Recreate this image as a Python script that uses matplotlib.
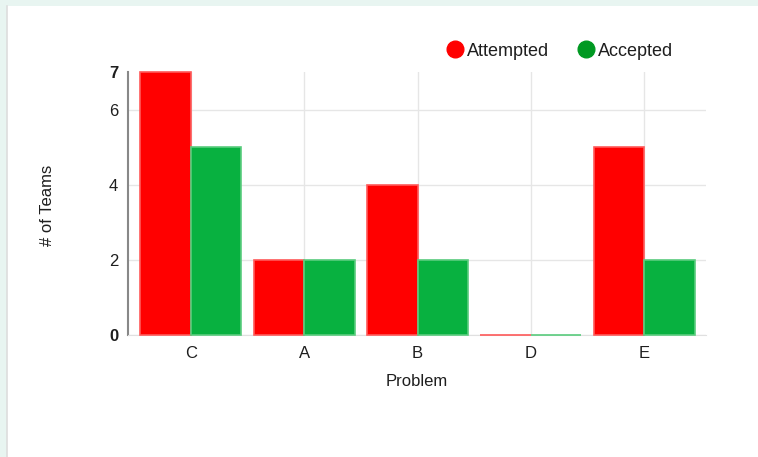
import matplotlib
matplotlib.use("Agg")
import matplotlib.pyplot as plt
from matplotlib.patches import Rectangle
from matplotlib.lines import Line2D
import numpy as np

plt.rcParams["font.family"] = ["Liberation Sans", "DejaVu Sans"]

# Teams per problem
problems = ["C", "A", "B", "D", "E"]
attempted = [7, 2, 4, 0, 5]
accepted = [5, 2, 2, 0, 2]

red = "#ff0000"
green = "#08b140"
text_col = "#1e1e1e"

fig = plt.figure(figsize=(7.58, 4.57), dpi=100)
fig.patch.set_facecolor("#e8f5f1")
# white card behind the chart
fig.patches.append(Rectangle((7 / 758, 0), 1, 1 - 6 / 457, transform=fig.transFigure,
                             facecolor="white", edgecolor="none", zorder=-2))
fig.lines.append(Line2D([7 / 758, 7 / 758], [0, 1 - 6 / 457], transform=fig.transFigure,
                        color="#dddddd", lw=1.2, zorder=-1))

ax = fig.add_axes([128 / 758, 1 - 335 / 457, 578 / 758, 263 / 457])
ax.set_facecolor("white")

x = np.arange(len(problems))
w = 0.446
b1 = ax.bar(x - w / 2, attempted, w, color=red, edgecolor="#ff5a5a", linewidth=1.2, zorder=3)
b2 = ax.bar(x + w / 2, accepted, w, color=green, edgecolor="#5acc7e", linewidth=1.2, zorder=3)
for p in list(b1) + list(b2):
    p.set_clip_on(False)

ax.set_xlim(-0.556, 4.547)
ax.set_ylim(0, 7)
ax.set_xticks(x)
ax.set_xticklabels(problems, fontsize=12, color=text_col)
ax.set_yticks([0, 2, 4, 6, 7])
ax.set_yticklabels(["0", "2", "4", "6", "7"], fontsize=12, color=text_col)
for lbl in ax.get_yticklabels():
    if lbl.get_text() in ("0", "7"):
        lbl.set_fontweight("bold")
ax.tick_params(axis="both", length=0)
ax.tick_params(axis="x", pad=8)
ax.tick_params(axis="y", pad=7)

ax.grid(True, color="#e6e6e6", linewidth=1, zorder=0)
ax.set_axisbelow(True)
# no gridline along the top value
ax.yaxis.get_gridlines()[-1].set_visible(False)
for s in ["top", "right"]:
    ax.spines[s].set_visible(False)
ax.spines["bottom"].set_color("#e0e0e0")
ax.spines["left"].set_color("#888888")
ax.spines["left"].set_linewidth(1.5)

ax.set_xlabel("Problem", fontsize=12, color=text_col, labelpad=9)
fig.text(48 / 758, 1 - 205 / 457, "# of Teams", rotation=90, fontsize=12,
         color=text_col, ha="center", va="center")

handles = [Line2D([], [], marker="o", ls="", markersize=12, color=red),
           Line2D([], [], marker="o", ls="", markersize=12, color="#009922")]
fig.legend(handles, ["Attempted", "Accepted"], loc="center", ncol=2,
           bbox_to_anchor=(559 / 758, 1 - 51 / 457), frameon=False, fontsize=13,
           handletextpad=0.1, columnspacing=1.5, handlelength=1.1,
           labelcolor=text_col)

fig.savefig("out.png", dpi=100)
